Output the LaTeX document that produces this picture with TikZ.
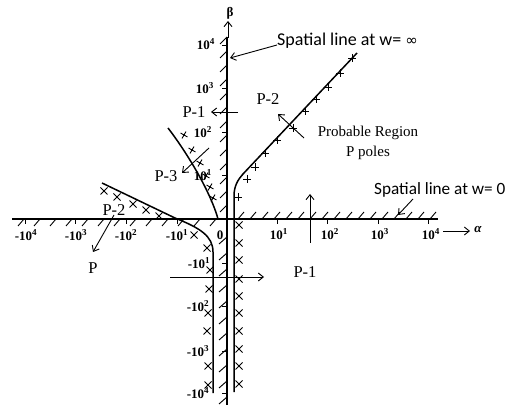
\documentclass[tikz,border=0pt]{standalone}
\usepackage{fontspec}
\setmainfont{Liberation Serif}
\newfontfamily\carl{Carlito}
\newfontfamily\dejavu{DejaVu Sans}
\usetikzlibrary{arrows.meta}
\begin{document}
\begin{tikzpicture}[x=1pt,y=-1pt,
  axisline/.style={line width=1.6pt},
  curveline/.style={line width=1.5pt},
  hatchline/.style={line width=0.9pt},
  markline/.style={line width=0.9pt},
  thinarrow/.style={line width=0.9pt,-{Straight Barb[length=5pt,width=8pt]}},
  ticklbl/.style={font=\bfseries\fontsize{13}{13}\selectfont, inner sep=0pt},
  plbl/.style={font=\fontsize{16.5}{16.5}\selectfont, inner sep=0pt},
  spatial/.style={font=\carl\fontsize{18}{18}\selectfont, inner sep=0pt, anchor=west},
  greek/.style={font=\bfseries\fontsize{13}{13}\selectfont, inner sep=0pt}
]
\useasboundingbox (0,0) rectangle (509,406);

% axes
\draw[axisline] (12,219) -- (438,219);
\draw[axisline] (227,37) -- (227,405);
\coordinate (btail) at (228,38);
\coordinate (bhead) at (228,21);
\draw[thinarrow] (btail) -- (bhead);
\node[greek] (beta) at (230,13) {β};
\coordinate (atail) at (443,231);
\coordinate (ahead) at (470,231);
\draw[thinarrow] (atail) -- (ahead);
\node[greek, font=\bfseries\itshape\fontsize{13}{13}\selectfont] (alpha) at (478,230) {α};

% hatches
\foreach \x in {24,40,...,216} \draw[hatchline] (\x-6,226) -- (\x,219);
\foreach \x in {238,250,...,434} \draw[hatchline] (\x,219) -- (\x+6,212);
\foreach \y in {40,54,...,208} \draw[hatchline] (220,\y+4) -- (227,\y-3);
\foreach \y in {240,256,...,400} \draw[hatchline] (219,\y+4) -- (227,\y-3);

% ticks
\foreach \x in {25,75,126,177,277,327,378,428} \draw[hatchline] (\x,219) -- (\x,224);
\foreach \y in {45,88,132,175,263,306,351,393} \draw[hatchline] (227,\y) -- (222,\y);

% tick labels
\node[ticklbl] (xm4) at (26,235) {-10\textsuperscript{4}};
\node[ticklbl] (xm3) at (76,235) {-10\textsuperscript{3}};
\node[ticklbl] (xm2) at (126,235) {-10\textsuperscript{2}};
\node[ticklbl] (xm1) at (177,235) {-10\textsuperscript{1}};
\node[ticklbl] (x0) at (220,235) {0};
\node[ticklbl] (xp1) at (279,234) {10\textsuperscript{1}};
\node[ticklbl] (xp2) at (330,234) {10\textsuperscript{2}};
\node[ticklbl] (xp3) at (380,234) {10\textsuperscript{3}};
\node[ticklbl] (xp4) at (431,234) {10\textsuperscript{4}};
\node[ticklbl] (yp4) at (206,44) {10\textsuperscript{4}};
\node[ticklbl] (yp3) at (205,88) {10\textsuperscript{3}};
\node[ticklbl] (yp2) at (203,132) {10\textsuperscript{2}};
\node[ticklbl] (yp1) at (203,175) {10\textsuperscript{1}};
\node[ticklbl] (ym1) at (199,263) {-10\textsuperscript{1}};
\node[ticklbl] (ym2) at (198,306) {-10\textsuperscript{2}};
\node[ticklbl] (ym3) at (198,351) {-10\textsuperscript{3}};
\node[ticklbl] (ym4) at (198,393) {-10\textsuperscript{4}};

% left curve (P-2 left)
\draw[curveline] (102,183) -- (175,218) .. controls (200,228) and (213,236) .. (213,252) -- (213,393);
\foreach \x/\y in {104/191,117/197,133/204,146/210,159/216,194/235,207/248,210/270,209/289,208/313,207/331,208/366,208/385}
  \draw[markline] (\x,\y) +(-3.5,-3.5) -- +(3.5,3.5) +(-3.5,3.5) -- +(3.5,-3.5);

% right curve (P-2)
\draw[curveline] (234,392) -- (234,196) .. controls (234,186) and (238,179.5) .. (243,174) -- (357,53);
\foreach \y in {225,243,260,279,296,313,331,349,366,384}
  \draw[markline] (239,\y) +(-3.5,-3.5) -- +(3.5,3.5) +(-3.5,3.5) -- +(3.5,-3.5);
\foreach \x/\y in {238/197,247/179,255/167,265/153,277/140,293/128,305/111,316/99,328/87,340/73,352/58}
  \draw[markline] (\x,\y) +(-4,0) -- +(4,0) +(0,-4) -- +(0,4);

% P-3 curve
\draw[curveline] (168,128) .. controls (185,150) and (210,190) .. (218,219);
\foreach \x/\y in {184/135,192/150,200/163,206/176,210/187,213/198}
  \draw[markline,rotate around={-30:(\x,\y)}] (\x,\y) +(-4,0) -- +(4,0) +(0,-4) -- +(0,4);

% labels and arrows
\node[plbl] (p1up) at (194,112) {P-1};
\coordinate (p1ua) at (238,112);
\coordinate (p1ub) at (211,112);
\draw[thinarrow] (p1ua) -- (p1ub);

\node[plbl] (p2up) at (268,99) {P-2};

\node[plbl] (p3) at (166,176) {P-3};
\coordinate (p3a) at (209,148);
\coordinate (p3b) at (182,173);
\draw[thinarrow] (p3a) -- (p3b);

\node[plbl] (p2left) at (114,210) {P-2};
\node[plbl] (pleft) at (93,268) {P};
\coordinate (p2la) at (114,215);
\coordinate (p2lb) at (93,252);
\draw[thinarrow] (p2la) -- (p2lb);

\node[plbl] (p1low) at (305,272) {P-1};
\coordinate (p1la) at (170,277);
\coordinate (p1lb) at (264,277);
\draw[thinarrow] (p1la) -- (p1lb);

\coordinate (upa) at (310,243);
\coordinate (upb) at (310,194);
\draw[thinarrow] (upa) -- (upb);

\node[font=\fontsize{15}{20}\selectfont, align=center, inner sep=0pt] (region) at (368,143) {Probable Region\\P poles};
\coordinate (rga) at (304,138);
\coordinate (rgb) at (278,114);
\draw[thinarrow] (rga) -- (rgb);

\node[spatial] (winf) at (277,41) {Spatial line at w= {\dejavu\fontsize{15}{15}\selectfont ∞}};
\coordinate (winfa) at (277,45);
\coordinate (winfb) at (230,58);
\draw[thinarrow] (winfa) -- (winfb);

\node[spatial, font=\carl\fontsize{17.2}{17.2}\selectfont] (wzero) at (374,190) {Spatial line at w= 0};
\coordinate (wza) at (413,199);
\coordinate (wzb) at (398,215);
\draw[thinarrow] (wza) -- (wzb);
\end{tikzpicture}
\end{document}
